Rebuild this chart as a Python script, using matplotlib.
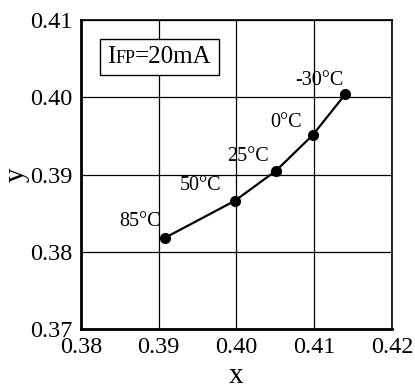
import matplotlib
matplotlib.use('Agg')
import matplotlib.pyplot as plt
from matplotlib.offsetbox import TextArea, HPacker, AnchoredOffsetbox

plt.rcParams['font.family'] = ['Liberation Serif', 'DejaVu Serif']

# 색도 좌표 (온도별)
temps = ['85°C', '50°C', '25°C', '0°C', '-30°C']
x_vals = [0.3908, 0.3998, 0.4051, 0.4098, 0.4140]
y_vals = [0.3818, 0.3866, 0.3905, 0.3951, 0.4004]

x_ticks = [0.38, 0.39, 0.40, 0.41, 0.42]
y_ticks = [0.37, 0.38, 0.39, 0.40, 0.41]

# 라벨 오프셋 (points)
label_offsets = [(-18, 12), (-25, 11), (-20, 10), (-19, 9), (-19, 10)]

fig = plt.figure(figsize=(4.15, 3.91), dpi=100)
ax = fig.add_axes([0.195, 0.1586, 0.7496, 0.7902])

ax.plot(x_vals, y_vals, color='black', lw=1.6, marker='o', ms=7, zorder=3)

for t, xv, yv, off in zip(temps, x_vals, y_vals, label_offsets):
    ax.annotate(t, (xv, yv), xytext=off, textcoords='offset points',
                ha='center', va='center', fontsize=14.5)

ax.set_xlim(0.38, 0.42)
ax.set_ylim(0.37, 0.41)
ax.set_xticks(x_ticks)
ax.set_yticks(y_ticks)
ax.set_xticklabels(['%.2f' % v for v in x_ticks])
ax.set_yticklabels(['%.2f' % v for v in y_ticks])
ax.tick_params(length=0, labelsize=17.5, pad=6)
ax.grid(True, color='black', lw=0.9)

for s in ['left', 'bottom']:
    ax.spines[s].set_linewidth(2.0)
for s in ['top', 'right']:
    ax.spines[s].set_linewidth(1.2)

ax.set_xlabel('x', fontsize=21, va='center')
ax.xaxis.set_label_coords(0.5, -0.152)
ax.set_ylabel('y', fontsize=21, va='center')
ax.yaxis.set_label_coords(-0.205, 0.5)

# IFP=20mA 박스
box = HPacker(children=[TextArea('I', textprops=dict(fontsize=18)),
                        TextArea('FP', textprops=dict(fontsize=13)),
                        TextArea('=20mA', textprops=dict(fontsize=18))],
              align='baseline', pad=0, sep=0)
anc = AnchoredOffsetbox(loc='upper left', child=box, pad=0.5, borderpad=0,
                        frameon=True, bbox_to_anchor=(0.061, 0.939),
                        bbox_transform=ax.transAxes)
anc.patch.set_edgecolor('black')
anc.patch.set_linewidth(1.0)
anc.patch.set_boxstyle('square,pad=0')
ax.add_artist(anc)

fig.savefig('out.png', dpi=100)
